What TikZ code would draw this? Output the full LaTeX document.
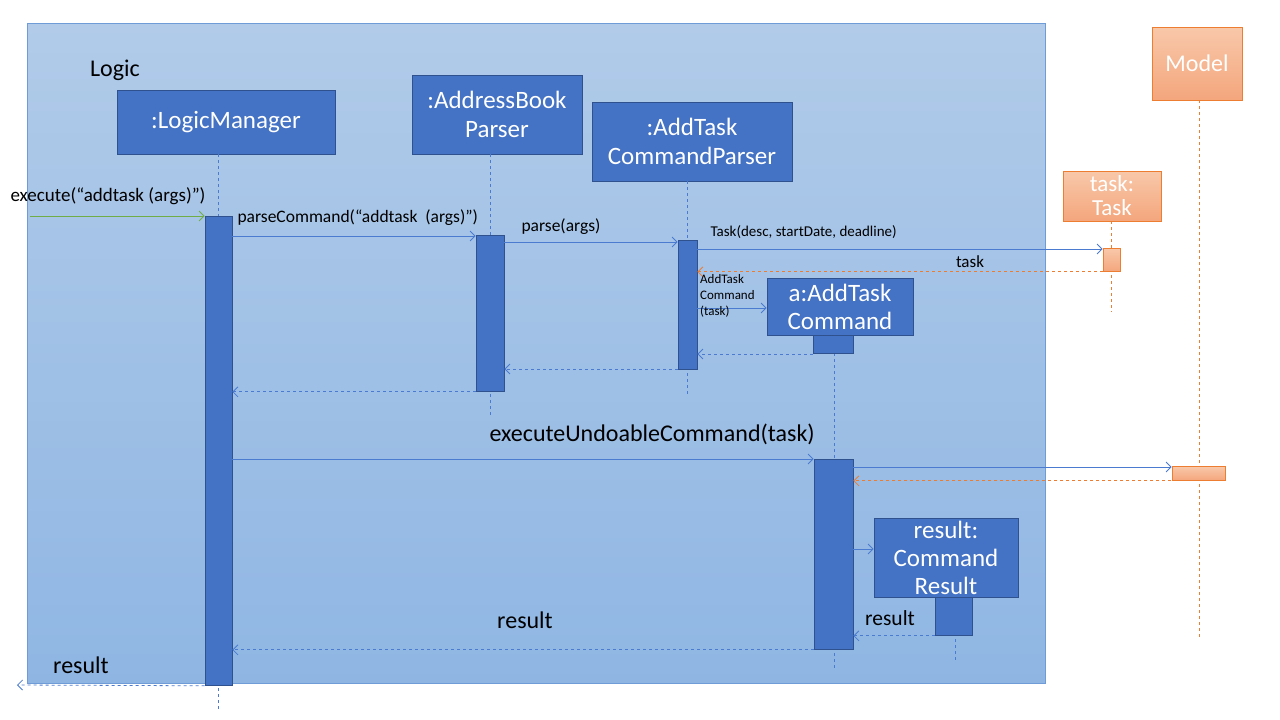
\documentclass[tikz,border=0pt]{standalone}
\usepackage{fontspec}
\setmainfont{Carlito}
\usetikzlibrary{arrows.meta}

\definecolor{objblue}{HTML}{4472C4}
\definecolor{objedge}{HTML}{2F528F}
\definecolor{msgblue}{HTML}{4A7BD0}
\definecolor{callgreen}{HTML}{70AD47}
\definecolor{modelorange}{HTML}{ED7D31}
\definecolor{orangetop}{HTML}{F8C8AA}
\definecolor{orangebot}{HTML}{F4A67C}
\definecolor{frametop}{RGB}{177,203,233}
\definecolor{framebot}{RGB}{143,182,227}
\definecolor{frameedge}{HTML}{6F9BD6}

\newcommand{\px}[1]{\fontsize{#1}{#1}\selectfont}

\begin{document}
\begin{tikzpicture}[x=1pt,y=-1pt,
    obj/.style={draw=objedge, fill=objblue, text=white, align=center, inner sep=0pt,
        font=\px{25}, line width=0.8pt},
    orangeobj/.style={draw=modelorange, top color=orangetop, bottom color=orangebot,
        text=white, align=center, inner sep=0pt, font=\px{24}, line width=0.8pt},
    act/.style={draw=objedge, fill=objblue, anchor=north, inner sep=0pt, line width=0.8pt},
    orangeact/.style={draw=modelorange, top color=orangetop, bottom color=orangebot,
        anchor=north, inner sep=0pt, line width=0.8pt},
    life/.style={draw=msgblue, dashed, line width=0.7pt},
    orangelife/.style={draw=modelorange, dashed, line width=0.7pt},
    msg/.style={draw=msgblue, line width=0.8pt, -{Straight Barb[length=5pt,width=10pt]}},
    ret/.style={msg, dashed},
    orangeret/.style={draw=modelorange, dashed, line width=0.8pt,
        -{Straight Barb[length=5pt,width=10pt]}}
]
    \useasboundingbox (0,0) rectangle (1280,720);

    % Logic frame
    \draw[draw=frameedge, top color=frametop, bottom color=framebot, line width=0.8pt]
        (27,23) rectangle (1045,683);
    \node[font=\px{24}] (logicLabel) at (115,70) {Logic};

    % objects
    \node[obj, minimum width=218pt, minimum height=64pt] (lm) at (226,122) {:LogicManager};
    \node[obj, minimum width=170pt, minimum height=79pt] (abp) at (497,114.5) {:AddressBook\\[4pt]Parser};
    \node[obj, minimum width=200pt, minimum height=79pt] (atcp) at (692,141.5) {:AddTask\\[4pt]CommandParser};
    \node[obj, minimum width=146pt, minimum height=57pt] (atc) at (840,306.5) {a:AddTask\\[3pt]Command};
    \node[obj, minimum width=144pt, minimum height=79pt] (cr) at (946,557.5) {result:\\[3pt]Command\\[3pt]Result};
    \node[orangeobj, minimum width=98pt, minimum height=50pt, font=\px{23}] (task) at (1112,196) {task:\\[1pt]Task};
    \node[orangeobj, minimum width=90pt, minimum height=73pt] (model) at (1197,63.5) {Model};

    % lifelines
    \coordinate (lmEnd) at (218,710);
    \coordinate (abpEnd) at (490,415);
    \coordinate (atcpEnd) at (687,395);
    \coordinate (atcEnd) at (834,668);
    \coordinate (crEnd) at (955,663);
    \coordinate (taskEnd) at (1111,312);
    \coordinate (modelEnd) at (1199,640);
    \draw[life] (lm.south -| lmEnd) -- (lmEnd);
    \draw[life] (abp.south -| abpEnd) -- (abpEnd);
    \draw[life] (atcp.south -| atcpEnd) -- (atcpEnd);
    \draw[life] (atc.south -| atcEnd) -- (atcEnd);
    \draw[life] (cr.south -| crEnd) -- (crEnd);
    \draw[orangelife] (task.south -| taskEnd) -- (taskEnd);
    \draw[orangelife] (model.south -| modelEnd) -- (modelEnd);

    % activations
    \node[act, minimum width=27pt, minimum height=469pt] (lmAct) at (218.5,216) {};
    \node[act, minimum width=28pt, minimum height=156pt] (abpAct) at (490,235) {};
    \node[act, minimum width=19pt, minimum height=129pt] (atcpAct) at (687.5,240) {};
    \node[act, minimum width=40pt, minimum height=18pt] (atcAct) at (833,335) {};
    \node[act, minimum width=39pt, minimum height=190pt] (execAct) at (833.5,459) {};
    \node[act, minimum width=37pt, minimum height=38pt] (crAct) at (953.5,597) {};
    \node[orangeact, minimum width=17pt, minimum height=23pt] (taskAct) at (1111.5,248) {};
    \node[orangeact, minimum width=53pt, minimum height=14pt] (modelAct) at (1198.5,466) {};

    % messages
    \coordinate (userIn) at (30,216);
    \draw[msg, draw=callgreen] (userIn) -- (lmAct.north west);
    \node[font=\px{19}] (executeLabel) at (108,196) {execute(“addtask (args)”)};

    \draw[msg] (lmAct.east |- 0,236) -- (abpAct.west |- 0,236);
    \node[font=\px{17.5}, anchor=west] (parseCmdLabel) at (234,218) {parseCommand(“addtask~ (args)”)};

    \draw[msg] (abpAct.east |- 0,242) -- (atcpAct.west |- 0,242);
    \node[font=\px{17.5}, anchor=west] (parseLabel) at (518,227) {parse(args)};

    \draw[msg] (atcpAct.east |- 0,249) -- (taskAct.west |- 0,249);
    \node[font=\px{15}, anchor=west] (newTaskLabel) at (707,232) {Task(desc, startDate, deadline)};

    \draw[orangeret] (taskAct.south west) -- (atcpAct.east |- taskAct.south);
    \node[font=\px{17}] (taskLabel) at (970,262) {task};

    \draw[msg] (atcpAct.east |- 0,308) -- (atc.west |- 0,308);
    \node[font=\px{13}, anchor=north west, align=left, inner sep=1pt] (newCmdLabel) at (699,273)
        {AddTask\\[3pt]Command\\[3pt](task)};

    \draw[ret] (atcAct.south west |- 0,354) -- (atcpAct.east |- 0,354);
    \draw[ret] (atcpAct.west |- 0,369) -- (abpAct.east |- 0,369);
    \draw[ret] (abpAct.south west) -- (lmAct.east |- abpAct.south);

    \draw[msg] (lmAct.east |- execAct.north) -- (execAct.north west);
    \node[font=\px{24}, anchor=west] (execUndoLabel) at (486,434) {executeUndoableCommand(task)};

    \draw[msg] (execAct.east |- 0,467) -- (modelAct.west |- 0,467);
    \draw[orangeret] (modelAct.south east) -- (execAct.east |- modelAct.south);

    \draw[msg] (execAct.east |- 0,549) -- (cr.west |- 0,549);
    \draw[ret] (crAct.south west) -- (execAct.east |- crAct.south);
    \node[font=\px{21.5}] (crResultLabel) at (890,618) {result};

    \draw[ret] (execAct.south west) -- (lmAct.east |- execAct.south);
    \node[font=\px{24}] (execResultLabel) at (525,620) {result};

    \coordinate (userOut) at (17,685);
    \draw[ret] (lmAct.south west) -- (userOut);
    \node[font=\px{24}] (lmResultLabel) at (81,665) {result};
\end{tikzpicture}
\end{document}
